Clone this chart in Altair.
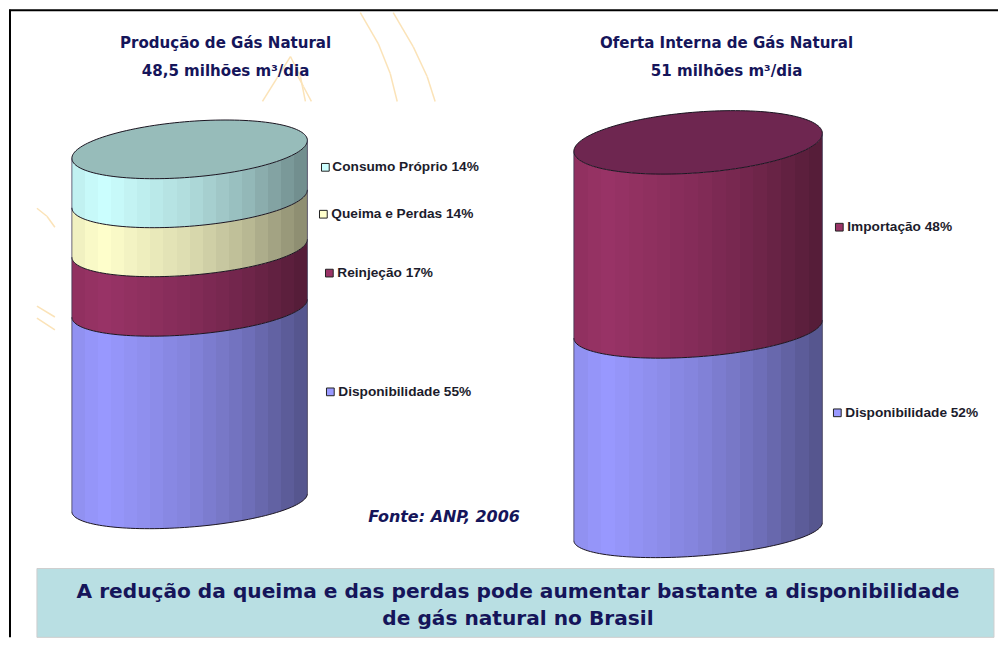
import numpy as np
import pandas as pd
import altair as alt

# ---- values ----
prod_labels = ["Disponibilidade", "Reinjeção", "Queima e Perdas", "Consumo Próprio"]
prod_values = [55, 17, 14, 14]
oferta_labels = ["Disponibilidade", "Importação"]
oferta_values = [52, 48]
colors = {"Disponibilidade": "#9999FF", "Reinjeção": "#993366", "Importação": "#993366",
          "Queima e Perdas": "#FFFFCC", "Consumo Próprio": "#CCFFFF"}
top_colors = {"Consumo Próprio": "#97BCBA", "Importação": "#6E2650"}
titles_left = ["Produção de Gás Natural", "48,5 milhões m³/dia"]
titles_right = ["Oferta Interna de Gás Natural", "51 milhões m³/dia"]
source = "Fonte: ANP, 2006"
banner = ["A redução da queima e das perdas pode aumentar bastante a disponibilidade",
          "de gás natural no Brasil"]
NAVY = "#15155A"
ORANGE = "#FBE3B8"

H = 629
L_W, R_W = 495, 496
one = pd.DataFrame({"a": [0]})


def shade(hex_col, f):
    rgb = [int(hex_col[i:i + 2], 16) for i in (1, 3, 5)]
    return "#%02x%02x%02x" % tuple(int(round(c * f)) for c in rgb)


def gradient(col, bands=18):
    xs, fs = [0, .13, .5, .75, 1], [.93, 1, .86, .72, .54]
    stops = []
    for i in range(bands):
        c = shade(col, float(np.interp((i + .5) / bands, xs, fs)))
        stops += [{"offset": i / bands, "color": c}, {"offset": (i + 1) / bands, "color": c}]
    return {"gradient": "linear", "x1": 0, "x2": 1, "y1": 0, "y2": 0, "stops": stops}


def rule(px, py, x1, y1, x2, y2, color=ORANGE, w=1.5):
    return alt.Chart(one).mark_rule(color=color, strokeWidth=w).encode(
        x=px(x1), x2=px(x2), y=py(y1), y2=py(y2))


def cylinder(labels, values, cx, a, y0, k, s, b0, b1, x_left, width, legend, title_x, title_lines, extras, after):
    theta = np.linspace(np.pi, 0, 73)
    u = np.cos(theta)
    root = np.sin(theta)
    xs = alt.Scale(domain=[(x_left - cx) / a, (x_left + width - cx) / a], nice=False, zero=False)
    ys = alt.Scale(domain=[(y0 - (8 + H)) / k, (y0 - 8) / k], nice=False, zero=False)
    X = alt.X("u:Q", scale=xs, axis=None)
    Y = alt.Y("y:Q", scale=ys, axis=None)
    Y2 = alt.Y2("y2:Q")

    def front(p):
        return p + (s * u - (b0 + (b1 - b0) * p / 100) * root) / k

    def back(p):
        return p + (s * u + (b0 + (b1 - b0) * p / 100) * root) / k

    px = lambda v: alt.value(v - x_left)
    py = lambda v: alt.value(v - 8)
    layers = list(extras(px, py))

    cum = 0
    outline = []
    for lab, val in zip(labels, values):
        lo, hi = cum, cum + val
        cum = hi
        d = pd.DataFrame({"u": u, "y": front(lo), "y2": front(hi)})
        layers.append(alt.Chart(d).mark_area(color=gradient(colors[lab]), orient="vertical").encode(x=X, y=Y, y2=Y2))
        outline.append(pd.DataFrame({"u": u, "y": front(lo), "g": lab}))
    # top face
    d = pd.DataFrame({"u": u, "y": back(100), "y2": front(100)})
    layers.append(alt.Chart(d).mark_area(color=top_colors[labels[-1]], orient="vertical").encode(x=X, y=Y, y2=Y2))
    outline.append(pd.DataFrame({"u": u, "y": front(100), "g": "top-front"}))
    outline.append(pd.DataFrame({"u": u, "y": back(100), "g": "top-back"}))
    layers.append(alt.Chart(pd.concat(outline)).mark_line(color="#1a1420", strokeWidth=1).encode(
        x=X, y=Y, detail="g:N"))
    # side edges
    edge = pd.DataFrame({"u": [-1, 1], "y": [-s / k, s / k], "y2": [-s / k + 100, s / k + 100]})
    layers.append(alt.Chart(edge).mark_rule(color="#3a3450", strokeWidth=1, opacity=.75).encode(x=X, y=Y, y2=Y2))

    # legend
    for (sx, tx, ty, lab, val) in legend:
        layers.append(alt.Chart(one).mark_square(
            size=60, fill=colors[lab], stroke="#222222", strokeWidth=1, opacity=1).encode(x=px(sx), y=py(ty)))
        layers.append(alt.Chart(one).mark_text(
            text=f"{lab} {val}%", align="left", baseline="middle", font="Liberation Sans",
            fontWeight="bold", fontSize=13.7, color="#1c1c2c").encode(x=px(tx), y=py(ty)))
    # titles
    for line, ty in zip(title_lines, [41, 70]):
        layers.append(alt.Chart(one).mark_text(
            text=line, align="center", baseline="middle", font="DejaVu Sans", fontWeight="bold",
            fontSize=15.1, color=NAVY).encode(x=px(title_x), y=py(ty)))
    layers += after(px, py)
    return alt.layer(*layers).properties(width=width, height=H)


def left_extras(px, py):
    out = []
    for path in [[(360, 11), (378, 42), (390, 72), (397, 100)],
                 [(393, 11), (413, 45), (427, 75), (435, 100)],
                 [(290, 55), (262, 100)],
                 [(290, 55), (300, 75), (305, 100)],
                 [(296, 72), (303, 85), (311, 100)],
                 [(36, 207), (46, 215), (54, 226)],
                 [(36, 305), (54, 316)],
                 [(36, 317), (54, 329)]]:
        for (a, b) in zip(path[:-1], path[1:]):
            out.append(rule(px, py, a[0], a[1], b[0], b[1]))
    out.append(rule(px, py, 8, 8.5, 503, 8.5, "#000000", 2))
    out.append(rule(px, py, 9, 8, 9, 637, "#000000", 2))
    return out


def left_after(px, py):
    out = [alt.Chart(one).mark_text(
        text=source, align="left", baseline="middle", font="DejaVu Sans", fontWeight="bold",
        fontStyle="italic", fontSize=16, color=NAVY).encode(x=px(368), y=py(516))]
    out.append(alt.Chart(one).mark_rect(color="#B9DFE3", stroke="#CFCFCF", strokeWidth=1).encode(
        x=px(36), x2=px(995), y=py(568), y2=py(637)))
    for line, ty in zip(banner, [592, 619]):
        out.append(alt.Chart(one).mark_text(
            text=line, align="center", baseline="middle", font="DejaVu Sans", fontWeight="bold",
            fontSize=20.2, color=NAVY).encode(x=px(518), y=py(ty)))
    return out


def right_extras(px, py):
    return [rule(px, py, 503, 8.5, 999, 8.5, "#000000", 2)]


left = cylinder(prod_labels, prod_values, 189, 118, 502, 3.54, 9, 24.5, 28, 8, L_W,
                [(325, 332, 166, "Consumo Próprio", 14), (323, 331, 213, "Queima e Perdas", 14),
                 (329, 337, 272, "Reinjeção", 17), (330, 338, 391, "Disponibilidade", 55)],
                225, titles_left, left_extras, left_after)
right = cylinder(oferta_labels, oferta_values, 698.5, 124.5, 531, 3.9, 9, 24.5, 30.5, 503, R_W,
                 [(840, 848, 226, "Importação", 48), (838, 846, 412, "Disponibilidade", 52)],
                 727, titles_right, right_extras, lambda px, py: [])

chart = alt.hconcat(left, right, spacing=0).properties(
    padding=0, background="#FFFFFF", bounds="flush").configure_view(stroke=None).configure_concat(spacing=0)
chart.save("out.html", embed_options={"renderer": "svg", "actions": False})
